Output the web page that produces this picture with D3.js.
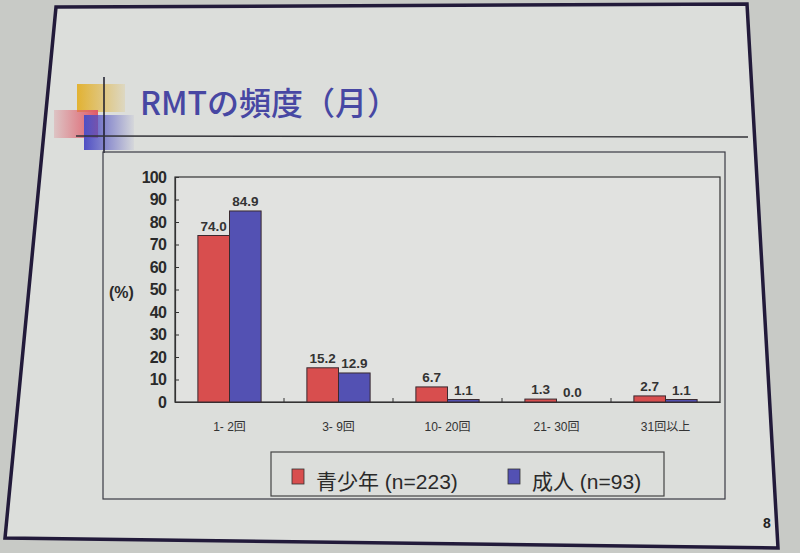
<!DOCTYPE html>
<html><head><meta charset="utf-8">
<script src="https://cdn.jsdelivr.net/npm/d3@7"></script>
<style>
html,body{margin:0;padding:0;background:#c8cac6;}
svg{display:block;font-family:"Liberation Sans","Noto Sans CJK JP",sans-serif;}
</style></head>
<body>
<svg id="c" width="800" height="553"></svg>
<script>
// ---- data ----
const title = "RMTの頻度（月）";
const categories = ["1- 2回", "3- 9回", "10- 20回", "21- 30回", "31回以上"];
const seriesNames = ["青少年 (n=223)", "成人 (n=93)"];
const youth = [74.0, 15.2, 6.7, 1.3, 2.7];
const adult = [84.9, 12.9, 1.1, 0.0, 1.1];
const yTicks = [0, 10, 20, 30, 40, 50, 60, 70, 80, 90, 100];
const yLabel = "(%)";
const pageNumber = "8";

const colors = ["#d84e4e", "#5351b3"];
const series = [youth, adult];

const svg = d3.select("#c");

// page background & slide
svg.append("rect").attr("width", 800).attr("height", 553).attr("fill", "#c8cac6");
svg.append("path")
  .attr("d", "M56,7 L747,4 L778,548 L5,538 Z")
  .attr("fill", "#dcdedb").attr("stroke", "#221a3a").attr("stroke-width", 3.5);

// title decoration
const defs = svg.append("defs");
function grad(id, c, x1, x2, o1, o2) {
  const g = defs.append("linearGradient").attr("id", id).attr("x1", x1).attr("x2", x2).attr("y1", 0).attr("y2", 0);
  g.append("stop").attr("offset", "0%").attr("stop-color", c).attr("stop-opacity", o1);
  g.append("stop").attr("offset", "100%").attr("stop-color", c).attr("stop-opacity", o2);
}
grad("gy", "#e2b232", 0, 1, 1, 0.15);
grad("gr", "#e05a68", 0, 1, 0.2, 1);
grad("gb", "#4f4fc4", 0, 1, 1, 0.05);
svg.append("rect").attr("x", 77).attr("y", 84).attr("width", 48).attr("height", 28).attr("fill", "url(#gy)");
svg.append("rect").attr("x", 54).attr("y", 110).attr("width", 44).attr("height", 28).attr("fill", "url(#gr)");
svg.append("rect").attr("x", 84).attr("y", 115).attr("width", 50).attr("height", 35).attr("fill", "url(#gb)");
svg.append("line").attr("x1", 104).attr("x2", 104).attr("y1", 77).attr("y2", 153).attr("stroke", "#1a1a2a").attr("stroke-width", 1.5);
svg.append("line").attr("x1", 76).attr("x2", 748).attr("y1", 136).attr("y2", 137).attr("stroke", "#333338").attr("stroke-width", 1.3);

svg.append("text").attr("x", 140).attr("y", 115)
  .attr("font-family", "'Noto Sans CJK JP',sans-serif").attr("font-weight", 500)
  .attr("font-size", 32).attr("fill", "#4747a3").text(title);

// chart frame
svg.append("rect").attr("x", 103).attr("y", 152).attr("width", 622).attr("height", 347)
  .attr("fill", "none").attr("stroke", "#3a3a44").attr("stroke-width", 1.2);

// plot
const m = {l: 175, r: 720, t: 177, b: 402};
svg.append("rect").attr("x", m.l).attr("y", m.t).attr("width", m.r - m.l).attr("height", m.b - m.t)
  .attr("fill", "#e1e2e0").attr("stroke", "#333").attr("stroke-width", 1.2);

const x = d3.scaleBand().domain(categories).range([m.l, m.r]).paddingInner(0.42).paddingOuter(0.21);
const xs = d3.scaleBand().domain(d3.range(series.length)).range([0, x.bandwidth()]);
const y = d3.scaleLinear().domain([0, 100]).range([m.b, m.t]);

// y axis
const ya = svg.append("g").attr("transform", `translate(${m.l},0)`)
  .call(d3.axisLeft(y).tickValues(yTicks).tickSize(-4).tickPadding(9).tickFormat(d3.format("d")));
ya.select(".domain").attr("stroke", "#333").attr("stroke-width", 1.2);
ya.selectAll(".tick line").attr("stroke", "#333");
ya.selectAll(".tick text").attr("font-size", 16).attr("font-weight", "bold").attr("fill", "#2a2a2a")
  .attr("letter-spacing", -0.8).attr("font-family", "'Liberation Sans',sans-serif");

// x axis
const xa = svg.append("g").attr("transform", `translate(0,${m.b})`)
  .call(d3.axisBottom(x).tickSize(0).tickPadding(20));
xa.select(".domain").attr("stroke", "#333").attr("stroke-width", 1.2);
xa.selectAll(".tick text").attr("font-size", 12).attr("fill", "#333")
  .attr("font-family", "'Liberation Sans','Noto Sans CJK JP',sans-serif");
// category separator ticks (inward)
const step = x.step();
svg.append("g").selectAll("line").data(categories.slice(1)).join("line")
  .attr("x1", d => x(d) - step * x.paddingInner() / 2)
  .attr("x2", d => x(d) - step * x.paddingInner() / 2)
  .attr("y1", m.b).attr("y2", m.b - 4).attr("stroke", "#333");

svg.append("text").attr("x", 109).attr("y", 298).attr("font-size", 16).attr("font-weight", "bold")
  .attr("fill", "#2a2a2a").text(yLabel);

// bars
const fmt = d3.format(".1f");
series.forEach((vals, si) => {
  const g = svg.append("g");
  const pts = vals.map((v, i) => ({v, i}));
  g.selectAll("rect").data(pts.filter(d => d.v > 0))
    .join("rect")
    .attr("x", d => x(categories[d.i]) + xs(si))
    .attr("y", d => y(d.v))
    .attr("width", xs.bandwidth())
    .attr("height", d => Math.max(1.5, y(0) - y(d.v)))
    .attr("fill", colors[si]).attr("stroke", "#3a2a30").attr("stroke-width", 1);
  g.selectAll("text").data(pts).join("text")
    .attr("x", d => x(categories[d.i]) + xs(si) + xs.bandwidth() / 2)
    .attr("y", d => y(d.v) - 5)
    .attr("text-anchor", "middle").attr("font-size", 13.5).attr("font-weight", "bold")
    .attr("fill", "#333").text(d => fmt(d.v));
});

// legend
svg.append("rect").attr("x", 271).attr("y", 452).attr("width", 393).attr("height", 44)
  .attr("fill", "none").attr("stroke", "#444").attr("stroke-width", 1.2);
const lx = [292, 508];
seriesNames.forEach((n, i) => {
  svg.append("rect").attr("x", lx[i]).attr("y", 469).attr("width", 12).attr("height", 15)
    .attr("fill", colors[i]).attr("stroke", "#333").attr("stroke-width", 0.8);
  svg.append("text").attr("x", lx[i] + 24).attr("y", 489).attr("font-size", 21)
    .attr("fill", "#2a2a2a").text(n);
});

svg.append("text").attr("x", 763).attr("y", 528).attr("font-size", 14).attr("font-weight", "bold")
  .attr("fill", "#222").text(pageNumber);
</script>
</body></html>
